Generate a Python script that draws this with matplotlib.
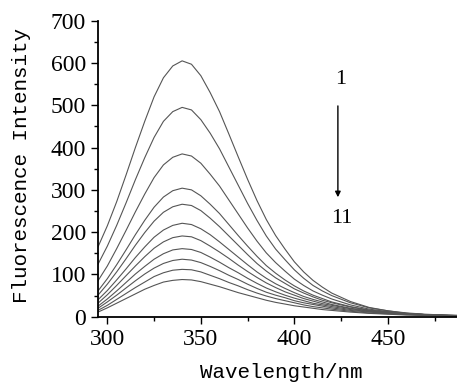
import matplotlib
matplotlib.use('Agg')
import matplotlib.pyplot as plt
from matplotlib.ticker import MultipleLocator

# wavelength grid (nm)
wavelength = [295, 300, 305, 310, 315, 320, 325, 330, 335, 340, 345, 350, 355, 360,
              365, 370, 375, 380, 385, 390, 395, 400, 405, 410, 415, 420,
              430, 440, 450, 460, 470, 480, 490]

# fluorescence spectra 1..11 (quenching series)
spec1 = [165, 215, 272, 335, 400, 462, 520, 565, 593, 605, 597, 570, 530, 485, 432, 378, 325,
         275, 230, 192, 160, 130, 106, 86, 70, 56, 36, 22, 14, 8, 5, 3, 2]
spec2 = [124, 167, 216, 269, 324, 376, 424, 462, 485, 495, 489, 466, 434, 397, 354, 311, 268,
         228, 191, 160, 135, 111, 91, 74, 61, 50, 33, 21, 14, 9, 6, 4, 2]
spec3 = [85, 120, 161, 204, 248, 290, 329, 359, 377, 385, 380, 363, 337, 309, 276, 243, 210,
         179, 151, 128, 108, 89, 74, 61, 51, 42, 28, 18, 12, 8, 5, 4, 2]
spec4 = [61, 90, 123, 158, 194, 228, 259, 283, 298, 304, 300, 286, 266, 244, 218, 192, 167,
         143, 121, 103, 87, 73, 61, 51, 43, 35, 24, 16, 11, 7, 5, 3, 2]
spec5 = [51, 77, 106, 137, 169, 199, 226, 247, 260, 266, 263, 251, 233, 213, 191, 169, 147,
         126, 108, 92, 79, 66, 56, 47, 39, 33, 23, 15, 11, 7, 5, 4, 3]
spec6 = [40, 62, 87, 113, 140, 165, 188, 205, 216, 221, 218, 208, 194, 177, 159, 141, 123,
         106, 91, 78, 67, 57, 48, 41, 35, 29, 20, 14, 10, 7, 5, 3, 3]
spec7 = [32, 52, 74, 97, 120, 142, 162, 177, 187, 191, 189, 180, 167, 153, 138, 122, 107,
         93, 80, 69, 59, 51, 43, 37, 31, 27, 19, 13, 9, 7, 5, 3, 3]
spec8 = [25, 42, 61, 81, 101, 119, 136, 149, 158, 161, 159, 152, 141, 129, 116, 104, 91,
         79, 68, 59, 51, 44, 38, 32, 28, 24, 17, 12, 9, 6, 4, 3, 2]
spec9 = [20, 35, 51, 68, 85, 101, 115, 126, 133, 136, 134, 128, 119, 109, 98, 88, 77,
         67, 58, 51, 45, 38, 33, 29, 25, 21, 15, 11, 8, 6, 4, 3, 2]
spec10 = [15, 27, 41, 55, 69, 82, 95, 104, 110, 112, 111, 106, 98, 90, 81, 73, 64,
          56, 49, 43, 38, 33, 28, 24, 21, 18, 13, 9, 7, 5, 4, 3, 2]
spec11 = [11, 21, 32, 43, 54, 65, 74, 82, 86, 88, 87, 83, 77, 71, 64, 57, 51,
          45, 39, 34, 30, 26, 23, 20, 17, 15, 11, 8, 6, 4, 3, 2, 2]

spectra = [spec1, spec2, spec3, spec4, spec5, spec6, spec7, spec8, spec9, spec10, spec11]

fig = plt.figure(figsize=(4.57, 3.83), dpi=100)
ax = fig.add_axes([0.2144, 0.173, 0.7856, 0.773])

for s in spectra:
    ax.plot(wavelength, s, color='#555555', lw=0.8)

ax.set_xlim(295, 487)
ax.set_ylim(0, 700)
ax.xaxis.set_major_locator(MultipleLocator(50))
ax.xaxis.set_minor_locator(MultipleLocator(25))
ax.yaxis.set_major_locator(MultipleLocator(100))
ax.yaxis.set_minor_locator(MultipleLocator(50))

for side in ['top', 'right']:
    ax.spines[side].set_visible(False)
for side in ['left', 'bottom']:
    ax.spines[side].set_linewidth(1.3)

ax.tick_params(which='major', direction='out', length=5, width=1)
ax.tick_params(which='minor', direction='out', length=3, width=1)
for lab in ax.get_xticklabels() + ax.get_yticklabels():
    lab.set_fontfamily('Liberation Serif')
    lab.set_fontsize(17)

fig.text(0.048, 0.567, 'Fluorescence Intensity', rotation=90, ha='center', va='center',
         family='Liberation Mono', fontsize=15)
fig.text(0.615, 0.013, 'Wavelength/nm', ha='center', va='baseline',
         family='Liberation Mono', fontsize=15)

# arrow showing the trend from spectrum 1 to 11
ax.text(425, 560, '1', ha='center', va='center', family='Liberation Serif', fontsize=16)
ax.text(425.5, 233, '11', ha='center', va='center', family='Liberation Serif', fontsize=16)
ax.annotate('', xy=(423.3, 276), xytext=(423.3, 505),
            arrowprops=dict(arrowstyle='-|>', color='black', lw=1, mutation_scale=8))

fig.savefig('out.png', dpi=100)
